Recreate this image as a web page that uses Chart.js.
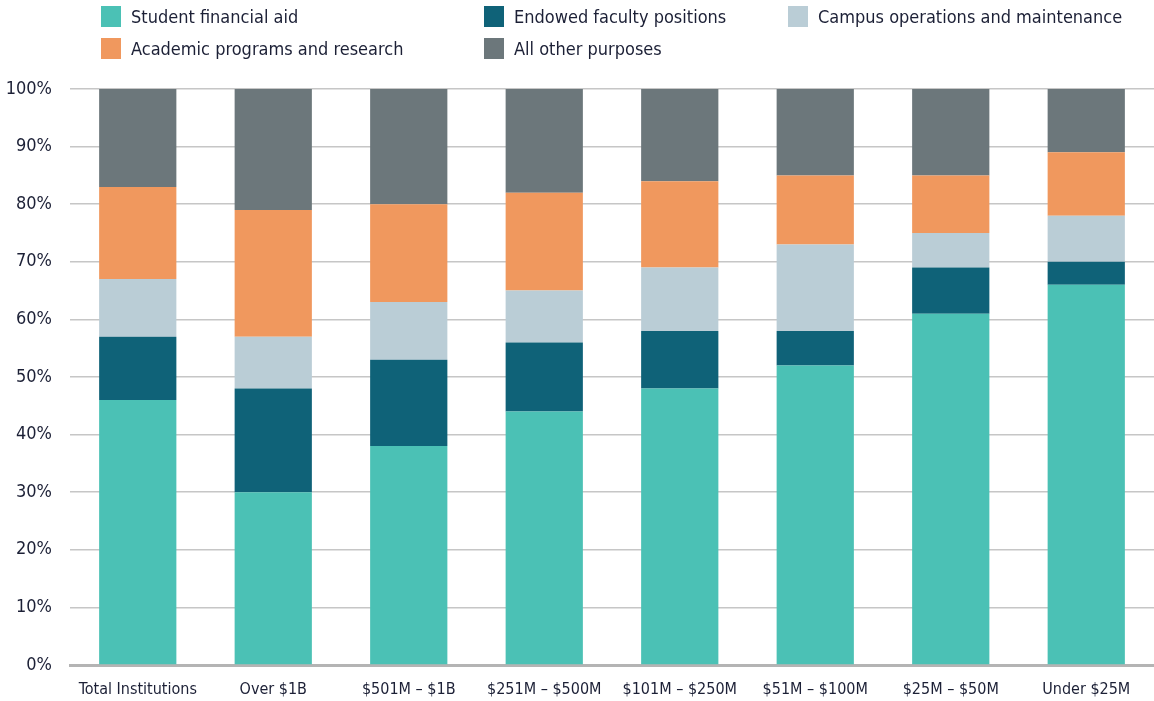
<!DOCTYPE html>
<html>
<head>
<meta charset="utf-8">
<script src="https://cdn.jsdelivr.net/npm/chart.js@4/dist/chart.umd.min.js"></script>
<style>
  html, body { margin: 0; padding: 0; background: #ffffff; }
  #wrap { position: relative; width: 1154px; height: 701px; }
  #chart { position: absolute; left: 0; top: 0; }
  .lg { position: absolute; display: flex; align-items: center; height: 22px;
        font-family: "Liberation Sans Narrow", "DejaVu Sans Condensed", sans-serif;
        font-size: 18px; color: #1c2036; white-space: nowrap; }
  .lg span.box { display: inline-block; width: 20px; height: 21px; margin-right: 10px; }
</style>
</head>
<body>
<div id="wrap">
  <canvas id="chart" width="1154" height="701"></canvas>
  <div id="legend"></div>
</div>
<script>
const categories = ["Total Institutions", "Over $1B", "$501M \u2013 $1B", "$251M \u2013 $500M",
                    "$101M \u2013 $250M", "$51M \u2013 $100M", "$25M \u2013 $50M", "Under $25M"];
const seriesNames = ["Student financial aid", "Endowed faculty positions", "Campus operations and maintenance",
                     "Academic programs and research", "All other purposes"];
const studentAid   = [46, 30, 38, 44, 48, 52, 61, 66];
const endowedFac   = [11, 18, 15, 12, 10,  6,  8,  4];
const campusOps    = [10,  9, 10,  9, 11, 15,  6,  8];
const academicProg = [16, 22, 17, 17, 15, 12, 10, 11];
const otherPurp    = [17, 21, 20, 18, 16, 15, 15, 11];
const yTicks = [0, 10, 20, 30, 40, 50, 60, 70, 80, 90, 100];

const colors = ["#4BC1B5", "#0F6278", "#BACDD6", "#F0985E", "#6C777B"];
const seriesValues = [studentAid, endowedFac, campusOps, academicProg, otherPurp];

// HTML legend in three columns, two rows
const legendPos = [[101, 5], [484, 5], [788, 5], [101, 37], [484, 37]];
const legendEl = document.getElementById('legend');
seriesNames.forEach((n, i) => {
  const d = document.createElement('div');
  d.className = 'lg';
  d.style.left = legendPos[i][0] + 'px';
  d.style.top = legendPos[i][1] + 'px';
  d.innerHTML = '<span class="box" style="background:' + colors[i] + '"></span>' + n;
  legendEl.appendChild(d);
});

const fontFam = '"Liberation Sans Narrow", "DejaVu Sans Condensed", sans-serif';

new Chart(document.getElementById('chart'), {
  type: 'bar',
  data: {
    labels: categories,
    datasets: seriesNames.map((n, i) => ({
      label: n,
      data: seriesValues[i],
      backgroundColor: colors[i],
      borderWidth: 0,
      categoryPercentage: 1.0,
      barPercentage: 0.57
    }))
  },
  options: {
    responsive: false,
    animation: false,
    layout: { padding: { top: 89, right: 0, left: 0, bottom: 0 } },
    plugins: { legend: { display: false }, tooltip: { enabled: false } },
    scales: {
      x: {
        stacked: true,
        grid: { display: false, drawTicks: false },
        border: { display: true, color: '#b4b4b4', width: 3 },
        ticks: { color: '#1c2036', font: { family: fontFam, size: 16 }, padding: 15, maxRotation: 0, autoSkip: false },
        afterFit: s => { s.height = 36; }
      },
      y: {
        stacked: true,
        min: 0, max: 100,
        afterBuildTicks: s => { s.ticks = yTicks.map(v => ({ value: v })); },
        grid: { color: '#c6c6c6', lineWidth: 1.5, drawTicks: false },
        border: { display: false },
        ticks: { color: '#1c2036', font: { family: fontFam, size: 18 }, padding: 18,
                 callback: v => v + '%' },
        afterFit: s => { s.width = 70; }
      }
    }
  }
});
</script>
</body>
</html>
